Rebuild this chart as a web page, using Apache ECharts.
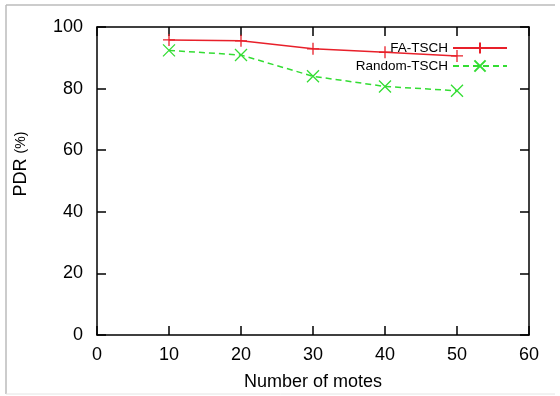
<!DOCTYPE html>
<html><head><meta charset="utf-8">
<script src="https://cdn.jsdelivr.net/npm/echarts@6/dist/echarts.min.js"></script>
<style>html,body{margin:0;padding:0;background:#fff}#c{width:560px;height:396px}</style>
</head><body><div id="c"></div>
<script>
const motes = [10, 20, 30, 40, 50];
const faTsch = [95.8, 95.5, 92.9, 91.8, 90.6];
const randomTsch = [92.4, 90.9, 84.0, 80.7, 79.3];
const xTicks = [0, 10, 20, 30, 40, 50, 60];
const yTicks = [0, 20, 40, 60, 80, 100];

const FONT = '"Liberation Sans", Arial, Helvetica, sans-serif';
const plusPath = 'path://M5,0L5,10M0,5L10,5';
const crossPath = 'path://M0,0L10,10M10,0L0,10';

const chart = echarts.init(document.getElementById('c'), null, {renderer: 'canvas'});
const axisCommon = () => ({
  axisLine: {show: true, onZero: false, lineStyle: {color: '#000', width: 1.5}},
  axisTick: {show: true, inside: true, length: 9, lineStyle: {color: '#000', width: 1.5}},
  splitLine: {show: false}
});
chart.setOption({
  animation: false,
  backgroundColor: '#fff',
  grid: {left: 97, right: 31, top: 27, bottom: 59, containLabel: false},
  legend: {
    right: 47, top: 36, orient: 'vertical', align: 'right',
    itemWidth: 54, itemHeight: 14, itemGap: 4,
    textStyle: {fontFamily: FONT, fontSize: 13.5, color: '#000'},
    data: ['FA-TSCH', 'Random-TSCH']
  },
  xAxis: [
    Object.assign({
      type: 'value', min: 0, max: 60, interval: 10, position: 'bottom',
      name: 'Number of motes', nameLocation: 'middle', nameGap: 38,
      nameTextStyle: {fontFamily: FONT, fontSize: 18, color: '#000'},
      axisLabel: {fontFamily: FONT, fontSize: 18, color: '#000', margin: 11}
    }, axisCommon()),
    Object.assign({
      type: 'value', min: 0, max: 60, interval: 10, position: 'top',
      axisLabel: {show: false}
    }, axisCommon())
  ],
  yAxis: [
    Object.assign({
      type: 'value', min: 0, max: 100, interval: 20, position: 'left',
      axisLabel: {fontFamily: FONT, fontSize: 18, color: '#000', margin: 14}
    }, axisCommon()),
    Object.assign({
      type: 'value', min: 0, max: 100, interval: 20, position: 'right',
      axisLabel: {show: false}
    }, axisCommon())
  ],
  graphic: [
    {type: 'line', shape: {x1: 6, y1: 5, x2: 555, y2: 5}, style: {stroke: '#bbb', lineWidth: 1.5}},
    {type: 'line', shape: {x1: 6, y1: 5, x2: 6, y2: 394}, style: {stroke: '#bbb', lineWidth: 1.5}},
    {type: 'line', shape: {x1: 6, y1: 394, x2: 555, y2: 394}, style: {stroke: '#e4e4e4', lineWidth: 1}},
    {type: 'text', x: 21, y: 164, rotation: Math.PI / 2,
      style: {text: '{a|PDR }{b|(%)}', textAlign: 'center', textVerticalAlign: 'middle',
        rich: {a: {fontFamily: FONT, fontSize: 18, fill: '#000'},
               b: {fontFamily: FONT, fontSize: 14, fill: '#000'}}}}
  ],
  series: [
    {
      name: 'FA-TSCH', type: 'line',
      data: motes.map((m, i) => [m, faTsch[i]]),
      symbol: plusPath, symbolSize: 12, showAllSymbol: true,
      lineStyle: {color: '#e8202a', width: 1.5},
      itemStyle: {color: '#e8202a', borderColor: '#e8202a', borderWidth: 1.3}
    },
    {
      name: 'Random-TSCH', type: 'line',
      data: motes.map((m, i) => [m, randomTsch[i]]),
      symbol: crossPath, symbolSize: 12, showAllSymbol: true,
      lineStyle: {color: '#33dd33', width: 1.5, type: [6, 4]},
      itemStyle: {color: '#33dd33', borderColor: '#33dd33', borderWidth: 1.3}
    }
  ]
});
</script></body></html>
